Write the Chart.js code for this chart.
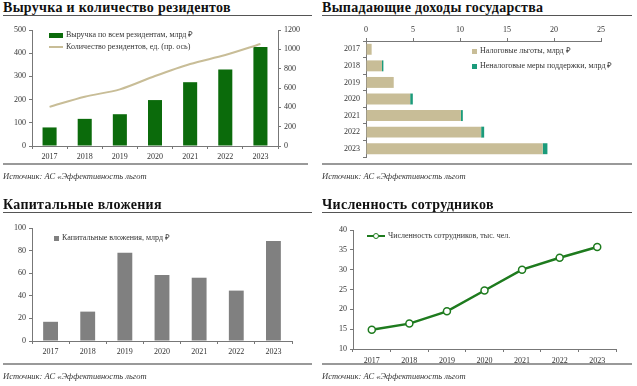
<!DOCTYPE html>
<html>
<head>
<meta charset="utf-8">
<script src="https://cdn.jsdelivr.net/npm/chart.js@4.4.0/dist/chart.umd.min.js"></script>
<style>
  html, body { margin: 0; padding: 0; background: #fff; }
  body { width: 637px; height: 386px; position: relative; overflow: hidden; font-family: 'Liberation Serif', serif; color: #333; }
  .title { position: absolute; font-weight: bold; font-size: 14px; color: #111; letter-spacing: 0.3px; white-space: nowrap; }
  .rule { position: absolute; height: 0; border-top: 1.5px solid #555; }
  .rule.bottom { border-top: 2px solid #999; }
  .src { position: absolute; font-style: italic; font-size: 8.5px; color: #333; white-space: nowrap; }
  .box { position: absolute; width: 312px; height: 145px; }
  .leg { position: absolute; font-size: 8px; color: #333; white-space: nowrap; line-height: 10px; }
  .sw { display: inline-block; vertical-align: middle; margin-right: 3px; }
</style>
</head>
<body>

<div class="title" style="left:3px; top:0px;">Выручка и количество резидентов</div>
<div class="rule" style="left:3px; width:309px; top:15px;"></div>
<div class="box" style="left:0; top:22px;"><canvas id="revenueChart"></canvas></div>
<div class="leg" style="left:49px; top:30px;"><span class="sw" style="width:14px;height:5px;background:#0b6b0b;"></span>Выручка по всем резидентам, млрд ₽</div>
<div class="leg" style="left:49px; top:42px;"><span class="sw" style="width:14px;height:2px;background:#c8bd97;"></span>Количество резидентов, ед. (пр. ось)</div>
<div class="rule bottom" style="left:3px; width:305px; top:163px;"></div>
<div class="src" style="left:3px; top:171px;">Источник: АС «Эффективность льгот</div>

<div class="title" style="left:322px; top:0px;">Выпадающие доходы государства</div>
<div class="rule" style="left:322px; width:310px; top:15px;"></div>
<div class="box" style="left:322px; top:22px; width:315px;"><canvas id="lossChart"></canvas></div>
<div class="leg" style="left:472px; top:46px;"><span class="sw" style="width:5px;height:5px;background:#c8bd97;"></span>Налоговые льготы, млрд ₽</div>
<div class="leg" style="left:472px; top:61px;"><span class="sw" style="width:5px;height:5px;background:#1b9b7b;"></span>Неналоговые меры поддержки, млрд ₽</div>
<div class="rule bottom" style="left:322px; width:310px; top:163px;"></div>
<div class="src" style="left:322px; top:171px;">Источник: АС «Эффективность льгот</div>

<div class="title" style="left:3px; top:197px;">Капитальные вложения</div>
<div class="rule" style="left:3px; width:309px; top:212px;"></div>
<div class="box" style="left:0; top:218px; height:145px;"><canvas id="capexChart"></canvas></div>
<div class="leg" style="left:54px; top:233px;"><span class="sw" style="width:5px;height:5px;background:#808080;"></span>Капитальные вложения, млрд ₽</div>
<div class="rule bottom" style="left:3px; width:309px; top:363px;"></div>
<div class="src" style="left:3px; top:371px;">Источник: АС «Эффективность льгот</div>

<div class="title" style="left:322px; top:197px;">Численность сотрудников</div>
<div class="rule" style="left:322px; width:310px; top:212px;"></div>
<div class="box" style="left:322px; top:218px; width:315px; height:147px;"><canvas id="staffChart"></canvas></div>
<div class="leg" style="left:367px; top:231px;"><span class="sw" style="width:18px;height:10px;position:relative;"><span style="position:absolute;left:0;top:4px;width:18px;height:2px;background:#1e7b1e;"></span><span style="position:absolute;left:5.5px;top:1.5px;width:4px;height:4px;border:1.5px solid #1e7b1e;border-radius:50%;background:#fff;"></span></span>Численность сотрудников, тыс. чел.</div>
<div class="rule bottom" style="left:322px; width:310px; top:363px;"></div>
<div class="src" style="left:322px; top:371px;">Источник: АС «Эффективность льгот</div>

<script>
const years = ['2017', '2018', '2019', '2020', '2021', '2022', '2023'];
const lossYears = ['2017', '2018', '2019', '2020', '2021', '2022', '2023'];

// Выручка, млрд ₽ и количество резидентов, ед.
const revenue = [80, 117, 137, 198, 275, 330, 427];
const residents = [405, 510, 586, 724, 848, 941, 1055];

// Выпадающие доходы, млрд ₽
const taxBenefits = [0.6, 1.7, 2.95, 4.7, 10.1, 12.25, 18.8];
const nonTaxSupport = [0, 0.15, 0, 0.28, 0.2, 0.32, 0.5];

// Капитальные вложения, млрд ₽
const capex = [17, 26, 78, 58.3, 56, 44.6, 88.4];

// Численность сотрудников, тыс. чел.
const staff = [14.85, 16.4, 19.5, 24.75, 30, 33, 35.7];

Chart.defaults.font.family = "'Liberation Serif', serif";
Chart.defaults.font.size = 8;
Chart.defaults.color = '#333';
Chart.defaults.animation = false;
Chart.defaults.responsive = true;
Chart.defaults.maintainAspectRatio = false;
Chart.defaults.plugins.legend.display = false;
Chart.defaults.plugins.tooltip.enabled = false;

const axisColor = '#777';

function fixWidth(w) {
  return function(scale) { scale.width = w; };
}
function fixHeight(h) {
  return function(scale) { scale.height = h; };
}
function axisGrid(extra) {
  return Object.assign({
    drawOnChartArea: false,
    drawTicks: true,
    tickLength: 3,
    color: axisColor
  }, extra || {});
}
function axisBorder() {
  return { display: true, color: axisColor, width: 1 };
}
// plain numbers, no thousands separator
function plain(value) {
  return String(value);
}

// Выручка и количество резидентов
new Chart(document.getElementById('revenueChart'), {
  type: 'bar',
  data: {
    labels: years,
    datasets: [
      {
        type: 'line',
        label: 'Количество резидентов, ед. (пр. ось)',
        data: residents,
        yAxisID: 'y1',
        borderColor: '#c8bd97',
        borderWidth: 2,
        pointRadius: 0,
        tension: 0.3
      },
      {
        label: 'Выручка по всем резидентам, млрд ₽',
        data: revenue,
        yAxisID: 'y',
        backgroundColor: '#0b6b0b',
        barPercentage: 0.4,
        categoryPercentage: 1
      }
    ]
  },
  options: {
    layout: { padding: { top: 8, right: 0, left: 0, bottom: 0 } },
    scales: {
      x: {
        grid: axisGrid({ offset: true }),
        border: axisBorder(),
        ticks: { padding: 3 },
        afterFit: fixHeight(21)
      },
      y: {
        position: 'left',
        min: 0, max: 500,
        ticks: { stepSize: 100, padding: 3, callback: plain },
        grid: axisGrid(),
        border: axisBorder(),
        afterFit: fixWidth(32)
      },
      y1: {
        position: 'right',
        min: 0, max: 1200,
        ticks: { stepSize: 200, padding: 3, callback: plain },
        grid: axisGrid(),
        border: axisBorder(),
        afterFit: fixWidth(34)
      }
    }
  }
});

// Выпадающие доходы государства
new Chart(document.getElementById('lossChart'), {
  type: 'bar',
  data: {
    labels: lossYears,
    datasets: [
      {
        label: 'Налоговые льготы, млрд ₽',
        data: taxBenefits,
        backgroundColor: '#c8bd97',
        barPercentage: 0.66,
        categoryPercentage: 1
      },
      {
        label: 'Неналоговые меры поддержки, млрд ₽',
        data: nonTaxSupport,
        backgroundColor: '#1b9b7b',
        barPercentage: 0.66,
        categoryPercentage: 1
      }
    ]
  },
  options: {
    indexAxis: 'y',
    layout: { padding: { top: 0, right: 36, left: 0, bottom: 10 } },
    scales: {
      x: {
        position: 'top',
        stacked: true,
        min: 0, max: 25,
        ticks: { stepSize: 5, padding: 3 },
        grid: axisGrid(),
        border: axisBorder(),
        afterFit: fixHeight(19)
      },
      y: {
        stacked: true,
        grid: axisGrid({ offset: true }),
        border: axisBorder(),
        ticks: { padding: 3 },
        afterFit: fixWidth(44)
      }
    }
  }
});

// Капитальные вложения
new Chart(document.getElementById('capexChart'), {
  type: 'bar',
  data: {
    labels: years,
    datasets: [{
      label: 'Капитальные вложения, млрд ₽',
      data: capex,
      backgroundColor: '#808080',
      barPercentage: 0.4,
      categoryPercentage: 1
    }]
  },
  options: {
    layout: { padding: { top: 10, right: 20, left: 0, bottom: 0 } },
    scales: {
      x: {
        grid: axisGrid({ offset: true }),
        border: axisBorder(),
        ticks: { padding: 3 },
        afterFit: fixHeight(22)
      },
      y: {
        min: 0, max: 100,
        ticks: { stepSize: 20, padding: 3 },
        grid: axisGrid(),
        border: axisBorder(),
        afterFit: fixWidth(32)
      }
    }
  }
});

// Численность сотрудников
new Chart(document.getElementById('staffChart'), {
  type: 'line',
  data: {
    labels: years,
    datasets: [{
      label: 'Численность сотрудников, тыс. чел.',
      data: staff,
      borderColor: '#1e7b1e',
      borderWidth: 2.5,
      pointRadius: 3.5,
      pointBorderWidth: 1.5,
      pointBackgroundColor: '#fff',
      pointBorderColor: '#1e7b1e',
      tension: 0
    }]
  },
  options: {
    layout: { padding: { top: 12, right: 21, left: 0, bottom: 0 } },
    scales: {
      x: {
        offset: true,
        grid: axisGrid({ offset: true }),
        border: axisBorder(),
        ticks: { padding: 4 },
        afterFit: fixHeight(16)
      },
      y: {
        min: 10, max: 40,
        ticks: { stepSize: 5, padding: 3 },
        grid: axisGrid(),
        border: axisBorder(),
        afterFit: fixWidth(31)
      }
    }
  }
});
</script>
</body>
</html>
